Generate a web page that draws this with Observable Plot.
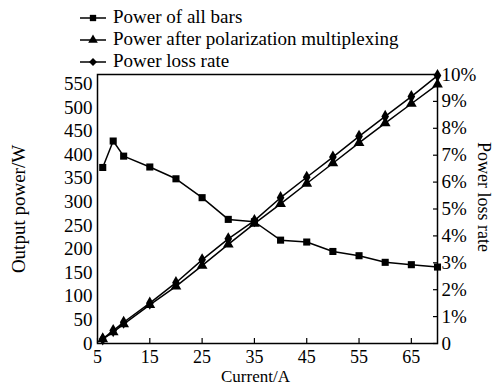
<!DOCTYPE html>
<html>
<head>
<meta charset="utf-8">
<script src="https://cdn.jsdelivr.net/npm/d3@7"></script>
<script src="https://cdn.jsdelivr.net/npm/@observablehq/plot@0.6"></script>
<style>
  html, body { margin: 0; padding: 0; background: #fff; }
  body { width: 494px; height: 389px; overflow: hidden; position: relative; font-family: "Liberation Serif", "DejaVu Serif", serif; }
  #chart { position: absolute; left: 0; top: 0; }
  #legend { position: absolute; left: 0; top: 0; width: 494px; height: 70px; z-index: 2; }
  .row { position: absolute; left: 79px; display: flex; align-items: center; font-size: 19px; color: #000; line-height: 1; }
  .row svg { margin-right: 6px; }
</style>
</head>
<body>
<div id="chart"></div>
<div id="legend"></div>
<script>
const currents = [6, 8, 10, 15, 20, 25, 30, 35, 40, 45, 50, 55, 60, 65, 70];
const powerAllBars = [373, 429, 397, 374, 349, 309, 263, 258, 219, 215, 195, 186, 172, 167, 162];
const powerAfterPM = [9, 24, 41, 82, 121, 165, 210, 254, 296, 339, 382, 425, 467, 508, 549];
const powerLossRate = [0.17, 0.48, 0.79, 1.50, 2.26, 3.11, 3.89, 4.57, 5.42, 6.18, 6.93, 7.70, 8.44, 9.18, 9.96];
const seriesNames = ["Power of all bars", "Power after polarization multiplexing", "Power loss rate"];
const seriesSymbols = ["square", "triangle", "diamond"];
const xTicks = [5, 15, 25, 35, 45, 55, 65];
const leftTicks = [0, 50, 100, 150, 200, 250, 300, 350, 400, 450, 500, 550];
const rightTicks = [0, 1, 2, 3, 4, 5, 6, 7, 8, 9, 10];
const xMin = 5, xMax = 70;
const yMax = 570;           // left axis maximum (W)
const pctToW = yMax / 10;   // right axis: 10% at top of frame

const rows = [];
currents.forEach((c, i) => {
  rows.push({series: seriesNames[0], x: c, y: powerAllBars[i], sym: seriesSymbols[0]});
  rows.push({series: seriesNames[1], x: c, y: powerAfterPM[i], sym: seriesSymbols[1]});
  rows.push({series: seriesNames[2], x: c, y: powerLossRate[i] * pctToW, sym: seriesSymbols[2]});
});

const chart = Plot.plot({
  width: 494,
  height: 389,
  marginLeft: 97,
  marginRight: 57,
  marginTop: 74,
  marginBottom: 46,
  style: {fontFamily: "Liberation Serif", fontSize: "19px", color: "#000", background: "#fff"},
  x: {domain: [xMin, xMax]},
  y: {domain: [0, yMax]},
  symbol: {domain: seriesSymbols, range: seriesSymbols},
  marks: [
    Plot.axisX({ticks: xTicks, tickSize: -5, tickPadding: 12, tickFormat: d => d, label: null, strokeWidth: 1.2, fontSize: 18}),
    Plot.axisY({ticks: leftTicks, tickSize: 0, tickPadding: 5, tickFormat: d => d, label: null}),
    Plot.axisY({anchor: "right", ticks: rightTicks.map(v => v * pctToW), tickSize: -5, tickPadding: 9,
      tickFormat: d => { const p = Math.round(d / pctToW); return p === 0 ? "0" : p + "%"; }, label: null, strokeWidth: 1.2}),
    Plot.text(["Current/A"], {frameAnchor: "bottom", dx: -12, dy: 38, textAnchor: "middle", text: d => d, fontSize: 17}),
    Plot.text(["Output power/W"], {frameAnchor: "left", dx: -79, dy: 0, textAnchor: "middle", rotate: -90, text: d => d, fontSize: 19}),
    Plot.text(["Power loss rate"], {frameAnchor: "right", dx: 46, dy: -12, textAnchor: "middle", rotate: 90, text: d => d, fontSize: 18}),
    Plot.line(rows, {x: "x", y: "y", z: "series", stroke: "#000", strokeWidth: 1.5}),
    Plot.dot(rows, {x: "x", y: "y", symbol: "sym", fill: "#000", r: 4}),
    Plot.frame({stroke: "#000", strokeWidth: 1.5})
  ]
});
document.getElementById("chart").appendChild(chart);

// legend (overlaid above the plot frame)
const legend = d3.select("#legend");
const symMap = {square: d3.symbolSquare, triangle: d3.symbolTriangle, diamond: d3.symbolDiamond2};
seriesNames.forEach((name, i) => {
  const row = legend.append("div").attr("class", "row").style("top", (7 + i * 22) + "px");
  const s = row.append("svg").attr("width", 28).attr("height", 16);
  s.append("line").attr("x1", 1).attr("x2", 27).attr("y1", 9).attr("y2", 9).attr("stroke", "#000").attr("stroke-width", 1.5);
  s.append("path").attr("transform", "translate(14,9)").attr("d", d3.symbol(symMap[seriesSymbols[i]], 40)()).attr("fill", "#000");
  row.append("span").text(name);
});
</script>
</body>
</html>
